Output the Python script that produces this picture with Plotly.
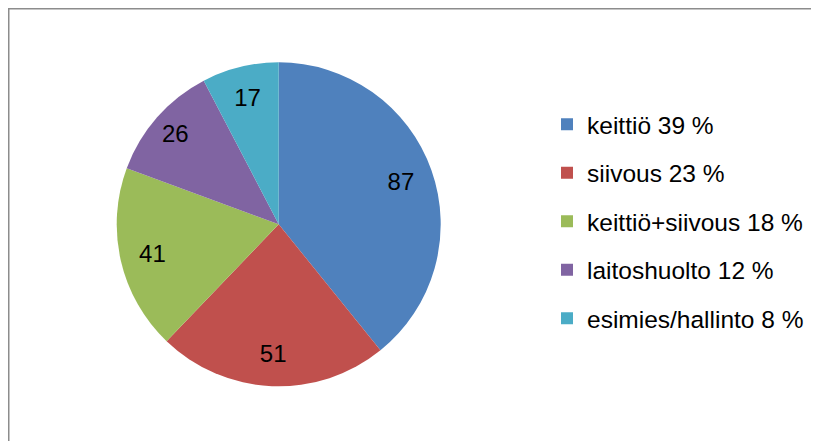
import plotly.graph_objects as go

categories = ["keittiö", "siivous", "keittiö+siivous", "laitoshuolto", "esimies/hallinto"]
values = [87, 51, 41, 26, 17]
percents = [39, 23, 18, 12, 8]
colors = ["#4F81BD", "#C0504D", "#9BBB59", "#8064A2", "#4BACC6"]

W, H = 819, 441
# page is offset by the 8px body margin
cx, cy, r = 270.7, 216.3, 162.0
dom = dict(x=[(cx - r) / W, (cx + r) / W], y=[(H - cy - r) / H, (H - cy + r) / H])

legend_labels = [
    f"<span style='font-size:24.5px;baseline-shift:4px'>{c} {p} %</span>"
    for c, p in zip(categories, percents)
]

fig = go.Figure()
fig.add_trace(
    go.Pie(
        labels=legend_labels,
        values=values,
        sort=False,
        direction="clockwise",
        rotation=0,
        marker=dict(colors=colors, line=dict(width=0)),
        textinfo="none",
        domain=dom,
        hoverinfo="label+value",
    )
)

# transparent rings used only to place the value labels out toward the rim
def label_ring(hole, show):
    return go.Pie(
        labels=legend_labels,
        values=values,
        sort=False,
        direction="clockwise",
        rotation=0,
        hole=hole,
        marker=dict(colors=["rgba(0,0,0,0)"] * len(values), line=dict(width=0)),
        texttemplate=["%{value}" if s else "" for s in show],
        textposition="inside",
        insidetextorientation="horizontal",
        textfont=dict(family="Liberation Sans", size=24, color="#000000"),
        domain=dom,
        showlegend=False,
        hoverinfo="skip",
    )

fig.add_trace(label_ring(0.6, [True, True, True, False, True]))
fig.add_trace(label_ring(0.7, [False, False, False, True, False]))

fig.update_layout(
    width=W,
    height=H,
    margin=dict(l=0, r=0, t=0, b=0),
    paper_bgcolor="white",
    plot_bgcolor="white",
    font=dict(family="Liberation Sans", color="#000000"),
    showlegend=True,
    legend=dict(
        x=539 / W,
        y=1 - 87 / H,
        xanchor="left",
        yanchor="top",
        font=dict(family="Liberation Sans", size=35, color="#000000"),
        bgcolor="rgba(0,0,0,0)",
        borderwidth=0,
    ),
    shapes=[
        dict(
            type="rect", xref="paper", yref="paper",
            x0=0.5 / W, x1=1.2, y0=-0.2, y1=1 - 0.5 / H,
            line=dict(color="#8c8c8c", width=2),
            fillcolor="rgba(0,0,0,0)",
        )
    ],
)

fig.write_html("out.html")
